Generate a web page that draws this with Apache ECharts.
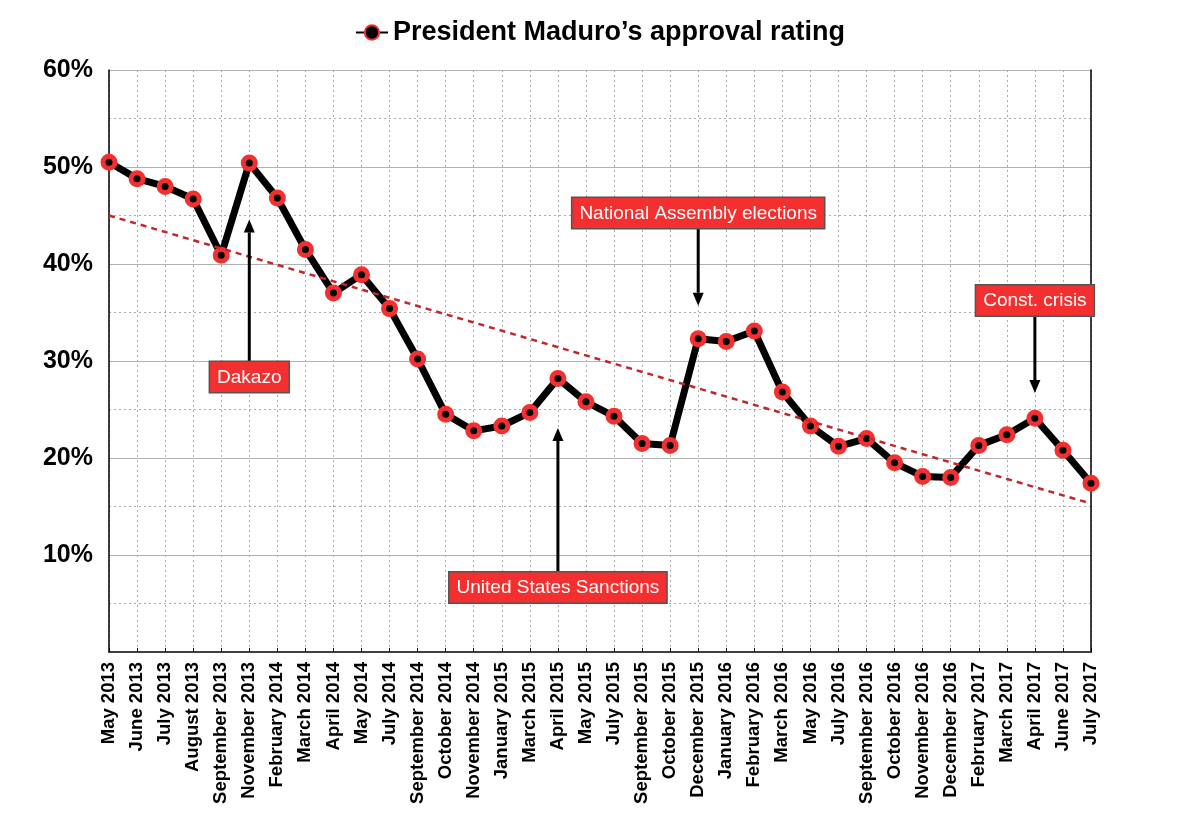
<!DOCTYPE html>
<html>
<head>
<meta charset="utf-8">
<script src="https://cdn.jsdelivr.net/npm/echarts@6/dist/echarts.min.js"></script>
<style>
  html, body { margin: 0; padding: 0; background: #fff; }
  #chart { width: 1200px; height: 828px; }
</style>
</head>
<body>
<div id="chart"></div>
<script>
// Poll months (x axis)
const months = [
  'May 2013', 'June 2013', 'July 2013', 'August 2013', 'September 2013', 'November 2013',
  'February 2014', 'March 2014', 'April 2014', 'May 2014', 'July 2014', 'September 2014',
  'October 2014', 'November 2014', 'January 2015', 'March 2015', 'April 2015', 'May 2015',
  'July 2015', 'September 2015', 'October 2015', 'December 2015', 'January 2016', 'February 2016',
  'March 2016', 'May 2016', 'July 2016', 'September 2016', 'October 2016', 'November 2016',
  'December 2016', 'February 2017', 'March 2017', 'April 2017', 'June 2017', 'July 2017'
];

// Approval rating in %
const approval = [
  50.5, 48.8, 48.0, 46.7, 40.9, 50.4,
  46.8, 41.5, 37.0, 38.9, 35.4, 30.2,
  24.5, 22.8, 23.3, 24.7, 28.2, 25.8,
  24.3, 21.5, 21.3, 32.3, 32.0, 33.1,
  26.8, 23.3, 21.2, 22.0, 19.5, 18.1,
  18.0, 21.3, 22.4, 24.1, 20.8, 17.4
];

// Trend line endpoints (first and last month)
const trendStart = 45.0;
const trendEnd = 15.3;

// y axis ticks
const yTicks = [0, 10, 20, 30, 40, 50, 60];

// Annotations: label, month index, arrow tip value, box edge value
const notes = [
  { text: 'Dakazo', idx: 5, tip: 44.6, box: 29.9, dir: 'up' },
  { text: 'United States Sanctions', idx: 16, tip: 23.1, box: 8.2, dir: 'up' },
  { text: 'National Assembly elections', idx: 21, tip: 35.7, box: 43.7, dir: 'down' },
  { text: 'Const. crisis', idx: 33, tip: 26.7, box: 34.7, dir: 'down' }
];

const RED = '#f42f2f';
const chart = echarts.init(document.getElementById('chart'));

const option = {
  backgroundColor: '#fff',
  animation: false,
  textStyle: { fontFamily: '"Liberation Sans", Arial, sans-serif' },
  legend: {
    top: 14,
    left: 'center',
    itemWidth: 32,
    itemHeight: 18,
    itemGap: 10,
    textStyle: { fontSize: 27, fontWeight: 'bold', color: '#000' },
    data: ['President Maduro\u2019s approval rating']
  },
  grid: {
    left: 109, right: 109, top: 70, bottom: 176,
    show: false
  },
  xAxis: [
    {
      type: 'category',
      data: months,
      boundaryGap: false,
      axisLine: { lineStyle: { color: '#000', width: 1.5 } },
      axisTick: { inside: true, length: 4, lineStyle: { color: '#000' } },
      axisLabel: {
        rotate: 90, interval: 0, margin: 10,
        fontSize: 18.5, fontWeight: 'bold', color: '#000'
      },
      splitLine: { show: true, lineStyle: { color: '#aaa', type: [2, 3], width: 1 } }
    },
    {
      // top frame line
      type: 'category',
      data: months,
      position: 'top',
      boundaryGap: false,
      axisLine: { lineStyle: { color: '#444', width: 1.5 } },
      axisTick: { show: false },
      axisLabel: { show: false },
      splitLine: { show: false }
    }
  ],
  yAxis: [
    {
      type: 'value',
      min: yTicks[0], max: yTicks[yTicks.length - 1], interval: 10,
      axisLine: { show: true, lineStyle: { color: '#000', width: 1.5 } },
      axisTick: { show: false },
      axisLabel: {
        fontSize: 25, fontWeight: 'bold', color: '#000', margin: 16,
        formatter: v => (v === 0 ? '' : v + '%')
      },
      splitLine: { lineStyle: { color: '#b0b0b0', width: 1 } },
      minorTick: { show: false, splitNumber: 2 },
      minorSplitLine: { show: true, lineStyle: { color: '#aaa', type: [2, 3], width: 1 } }
    },
    {
      // right frame line
      type: 'value',
      position: 'right',
      min: yTicks[0], max: yTicks[yTicks.length - 1], interval: 10,
      axisLine: { show: true, lineStyle: { color: '#000', width: 1.5 } },
      axisTick: { show: false },
      axisLabel: { show: false },
      splitLine: { show: false }
    }
  ],
  series: [
    {
      name: 'President Maduro\u2019s approval rating',
      type: 'line',
      data: approval,
      z: 3,
      lineStyle: { color: '#000', width: 7 },
      symbol: 'circle',
      symbolSize: 12,
      showSymbol: true,
      itemStyle: { color: '#000', borderColor: RED, borderWidth: 5 },
      emphasis: { disabled: true }
    },
    {
      name: 'trend',
      type: 'line',
      z: 4,
      silent: true,
      symbol: 'none',
      data: [],
      markLine: {
        silent: true,
        symbol: 'none',
        label: { show: false },
        lineStyle: { color: '#c1272d', width: 2.5, type: [6, 5] },
        data: [[
          { coord: [months[0], trendStart] },
          { coord: [months[months.length - 1], trendEnd] }
        ]]
      }
    }
  ]
};

chart.setOption(option);

// Annotation boxes and arrows, placed through the axes
function drawNotes() {
  const els = [];
  notes.forEach(n => {
    const x = chart.convertToPixel({ gridIndex: 0 }, [n.idx, 0])[0];
    const tipY = chart.convertToPixel({ gridIndex: 0 }, [0, n.tip])[1];
    const boxY = chart.convertToPixel({ gridIndex: 0 }, [0, n.box])[1];
    const up = n.dir === 'up';
    const headLen = 13;
    const baseY = up ? tipY + headLen : tipY - headLen;
    els.push({
      type: 'line', z: 10,
      shape: { x1: x, y1: boxY, x2: x, y2: baseY },
      style: { stroke: '#000', lineWidth: 3 }
    });
    els.push({
      type: 'polygon', z: 10,
      shape: { points: [[x - 5.5, baseY], [x + 5.5, baseY], [x, tipY]] },
      style: { fill: '#000' }
    });
    els.push({
      type: 'text', z: 11,
      x: x,
      y: boxY,
      style: {
        text: n.text,
        fill: '#fff',
        font: '19px "Liberation Sans", Arial, sans-serif',
        align: 'center',
        verticalAlign: up ? 'top' : 'bottom',
        backgroundColor: RED,
        borderColor: '#555',
        borderWidth: 1.5,
        padding: [6, 7, 5, 7]
      }
    });
  });
  chart.setOption({ graphic: els });
}
drawNotes();
</script>
</body>
</html>
